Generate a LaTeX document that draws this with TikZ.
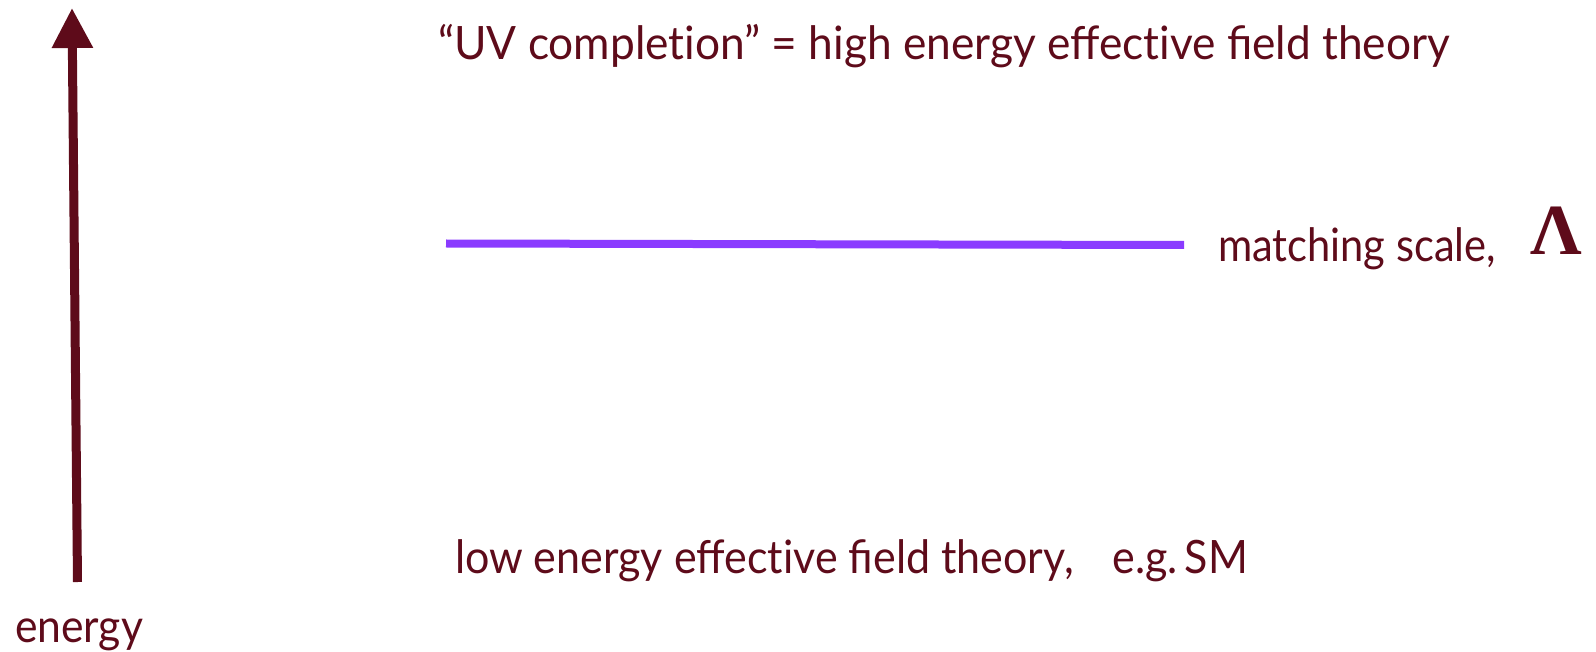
\documentclass[tikz,border=0pt]{standalone}
\usepackage{fontspec}
\setmainfont{Lato}
\newfontfamily\lamfont{Liberation Serif}
\usetikzlibrary{arrows.meta}
\definecolor{maroon}{HTML}{5E0B1A}
\definecolor{violetline}{HTML}{8A3BFF}
\newcommand{\tI}{t\kern0pt i}
\tikzset{
  lbl/.style={anchor=base west, inner sep=0pt, outer sep=0pt, text=maroon, font=\fontsize{46}{55}\selectfont},
}
\begin{document}
\begin{tikzpicture}[x=1pt,y=-1pt]
\useasboundingbox (0,0) rectangle (1596,652);
\coordinate (abot) at (77.5,582);
\coordinate (atop) at (72,8);
\draw[maroon, line width=9pt, -{Triangle[width=39pt,length=40pt]}] (abot) -- (atop);
\node[lbl] (energy) at (15,642) {\resizebox{128pt}{\height}{energy}};
\node[lbl] (uv) at (438,60) {\resizebox{1012pt}{\height}{“UV comple\tI on” = high energy effec\tI ve field theory}};
\coordinate (ml) at (446,243.5);
\coordinate (mr) at (1184,245);
\draw[violetline, line width=8pt] (ml) -- (mr);
\node[lbl] (match) at (1218,262) {\resizebox{278pt}{\height}{matching scale,}};
\node[anchor=base west, inner sep=0pt, text=maroon, font=\lamfont\bfseries\fontsize{72}{80}\selectfont] (lam) at (1530,255) {Λ};
\node[lbl] (low) at (455,573) {\resizebox{793pt}{\height}{low energy effec\tI ve field theory,\hspace{0.9em}e.g.\,SM}};
\end{tikzpicture}
\end{document}
